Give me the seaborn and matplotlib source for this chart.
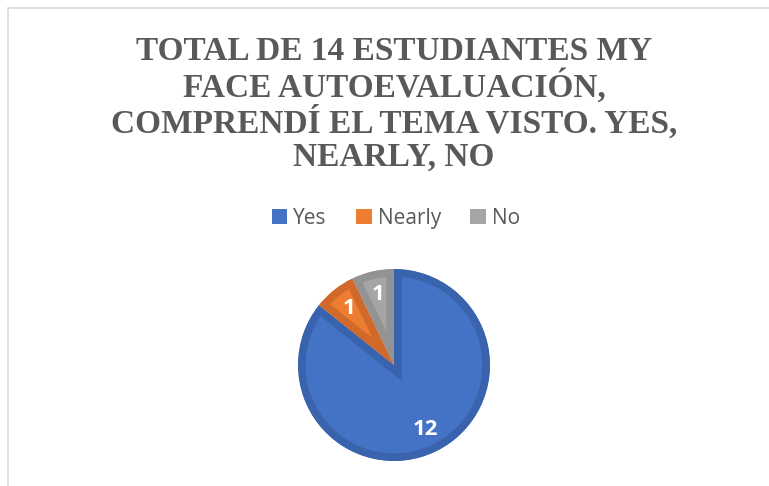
import matplotlib
matplotlib.use("Agg")
import matplotlib.pyplot as plt
from matplotlib.patches import Patch, Rectangle
import seaborn as sns

# data
categories = ["Yes", "Nearly", "No"]
counts = [12, 1, 1]
face_colors = ["#4472C4", "#ED7D31", "#A5A5A5"]
edge_colors = ["#3A63AE", "#D1692A", "#939393"]
title = "TOTAL DE 14 ESTUDIANTES MY\nFACE AUTOEVALUACIÓN,\nCOMPRENDÍ EL TEMA VISTO. YES,\nNEARLY, NO"

sns.set_style("white")
plt.rcParams["font.family"] = ["Open Sans", "DejaVu Sans"]

W, H = 769, 486
fig = plt.figure(figsize=(W / 100, H / 100), dpi=100)

# chart area border (light grey, runs off right/bottom)
fig.patches.append(Rectangle((7.5 / W, -0.1), 1.2, 1.1 - 8.5 / H,
                             transform=fig.transFigure, fill=False,
                             edgecolor="#D9D9D9", linewidth=1.2))

# title
fig.text(394 / W, 1 - 36 / H, title, ha="center", va="top",
         family=["Liberation Serif", "DejaVu Serif"], fontweight="bold", fontsize=24,
         color="#595959", linespacing=1.07)

# pie
cx, cy, r = 394, 365, 96
ax = fig.add_axes([(cx - r) / W, (H - cy - r) / H, 2 * r / W, 2 * r / H])
total = sum(counts)
wedges, _, autotexts = ax.pie(
    counts, colors=face_colors, startangle=90, counterclock=False,
    autopct=lambda p: f"{round(p * total / 100)}", pctdistance=0.75,
    textprops=dict(color="white", fontweight="bold", fontsize=16),
)
# darker inner rim on each slice (stroke clipped to the slice itself)
for w, ec in zip(wedges, edge_colors):
    w.set_edgecolor(ec)
    w.set_linewidth(11)
    w.set_clip_on(True)
    w.set_clip_path(w)
ax.set_xlim(-1, 1)
ax.set_ylim(-1, 1)
ax.set_aspect("equal")
ax.axis("off")

# legend
handles = [Patch(facecolor=c, edgecolor="none") for c in face_colors]
fig.legend(handles, categories, loc="center", bbox_to_anchor=(396 / W, 1 - 218 / H),
           ncol=3, frameon=False, fontsize=15, handlelength=0.75, handleheight=0.75,
           handletextpad=0.3, columnspacing=1.4, labelcolor="#595959")

fig.savefig("out.png", dpi=100)
